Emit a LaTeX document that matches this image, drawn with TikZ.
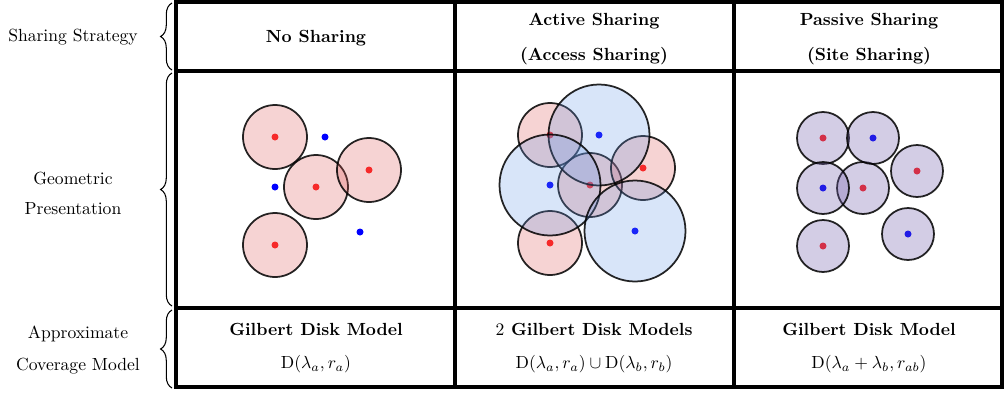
\documentclass[tikz,border=0pt]{standalone}
\usepackage{amsmath}
\usetikzlibrary{positioning, decorations.pathreplacing}

\definecolor{diskred}{RGB}{220,80,80}
\definecolor{diskblue}{RGB}{100,150,230}
\definecolor{diskmix}{RGB}{110,90,170}
\definecolor{dotred}{RGB}{255,30,30}
\definecolor{dotblue}{RGB}{0,0,255}

\begin{document}
\begin{tikzpicture}[
    x=0.2mm, y=-0.2mm,
    gridline/.style={line width=2.1pt, black},
    sidelbl/.style={align=center},
    headlbl/.style={font=\bfseries, align=center},
    rowbrace/.style={decorate, decoration={brace, amplitude=6.5pt}, line width=0.6pt},
    pinkdisk/.style={fill=diskred, fill opacity=0.25, draw=black, draw opacity=0.85, line width=1pt},
    bluedisk/.style={fill=diskblue, fill opacity=0.25, draw=black, draw opacity=0.85, line width=1pt},
    mixdisk/.style={fill=diskmix, fill opacity=0.3, draw=black, draw opacity=0.85, line width=1pt},
    reddot/.style={fill=dotred},
    bluedot/.style={fill=dotblue}
]
\useasboundingbox (0,0) rectangle (1004,394);

% table
\draw[gridline] (176,2) rectangle (1002,387);
\draw[gridline] (176,71) -- (1002,71);
\draw[gridline] (176,308) -- (1002,308);
\draw[gridline] (455,2) -- (455,387);
\draw[gridline] (734,2) -- (734,387);

% row labels
\node[sidelbl] (strategy) at (73,37) {Sharing Strategy};
\node[sidelbl] (geometric) at (73,193) {Geometric\\[5pt]Presentation};
\node[sidelbl] (coverage) at (78,350) {Approximate\\[6pt]Coverage Model};
\draw[rowbrace] (172,70) -- (172,3);
\draw[rowbrace] (172,306) -- (172,73);
\draw[rowbrace] (172,388) -- (172,310);

% headers
\node[headlbl] (none) at (316,38) {No Sharing};
\node[headlbl] (active) at (594,39) {Active Sharing\\[8pt](Access Sharing)};
\node[headlbl] (passive) at (869,39) {Passive Sharing\\[8pt](Site Sharing)};

% no sharing
\foreach \cx/\cy in {275/137, 316/187, 369/170, 275/245} {
    \fill[reddot] (\cx,\cy) circle (3.5);
    \draw[pinkdisk] (\cx,\cy) circle (32);
}
\foreach \cx/\cy in {325/137, 275/187, 360/232}
    \fill[bluedot] (\cx,\cy) circle (3.5);

% active sharing
\foreach \cx/\cy in {550/135, 590/185, 643/168, 550/243} {
    \fill[reddot] (\cx,\cy) circle (3.5);
    \draw[pinkdisk] (\cx,\cy) circle (32);
}
\foreach \cx/\cy in {599/135, 550/185, 635/231} {
    \fill[bluedot] (\cx,\cy) circle (3.5);
    \draw[bluedisk] (\cx,\cy) circle (50.5);
}

% passive sharing
\foreach \cx/\cy in {823/138, 917/171, 863/188, 823/246} {
    \fill[reddot] (\cx,\cy) circle (3.5);
    \draw[mixdisk] (\cx,\cy) circle (26);
}
\foreach \cx/\cy in {873/138, 823/188, 908/234} {
    \fill[bluedot] (\cx,\cy) circle (3.5);
    \draw[mixdisk] (\cx,\cy) circle (26);
}

% coverage models
\node[headlbl] (gilbert) at (316,348) {Gilbert Disk Model\\[7pt]$\mathrm{D}(\lambda_a,r_a)$};
\node[headlbl] (twogilbert) at (594,348) {{\mdseries 2} Gilbert Disk Models\\[7pt]$\mathrm{D}(\lambda_a,r_a)\cup\mathrm{D}(\lambda_b,r_b)$};
\node[headlbl] (joint) at (869,348) {Gilbert Disk Model\\[7pt]$\mathrm{D}(\lambda_a+\lambda_b,r_{ab})$};
\end{tikzpicture}
\end{document}
